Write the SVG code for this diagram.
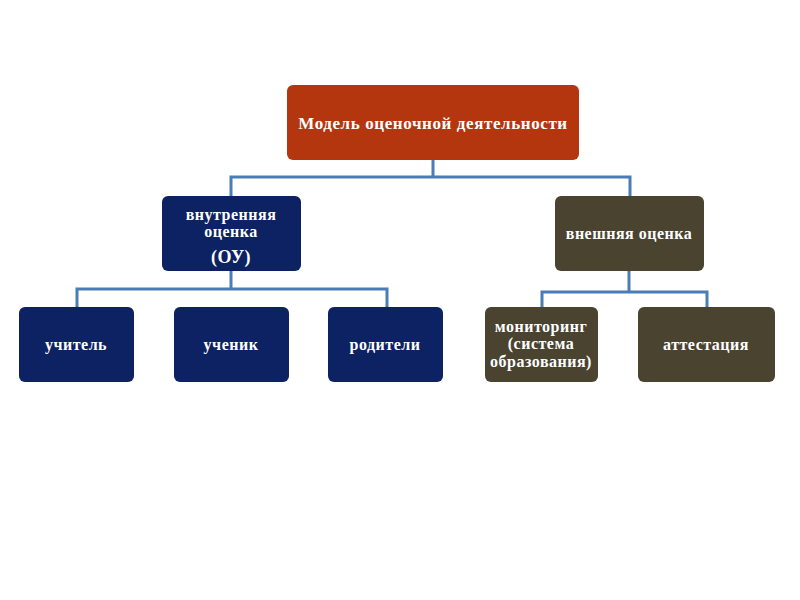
<svg xmlns="http://www.w3.org/2000/svg" width="800" height="600" viewBox="0 0 800 600">
<defs>
<style>
.red{fill:#b3360f}
.blue{fill:#0c2262}
.olive{fill:#4a4330}
.t{fill:#ffffff;font-family:"Liberation Serif","DejaVu Serif",serif;font-weight:bold;font-size:16px;letter-spacing:0.5px;text-anchor:middle}
.c{fill:none;stroke:#4a7cb5;stroke-width:3}
</style>
</defs>
<rect width="800" height="600" fill="#ffffff"/>
<g id="connectors">
<path class="c" d="M433 160 V177 M231 196 V177 H630 V196"/>
<path class="c" d="M231 271 V289 M77 307 V289 H387 V307"/>
<path class="c" d="M629 271 V292 M542 307 V292 H707 V307"/>
</g>
<g id="root">
<rect class="red" x="287" y="85" width="292" height="75" rx="6"/>
<text class="t" x="433" y="129" style="font-size:17px;letter-spacing:0.6px">Модель оценочной деятельности</text>
</g>
<g id="internal">
<rect class="blue" x="162" y="196" width="139" height="75" rx="6"/>
<text class="t" x="231" y="220">внутренняя</text>
<text class="t" x="231" y="237">оценка</text>
<text class="t" x="231" y="263" style="font-size:18px">(ОУ)</text>
</g>
<g id="external">
<rect class="olive" x="555" y="196" width="149" height="75" rx="6"/>
<text class="t" x="629" y="239">внешняя оценка</text>
</g>
<g id="teacher">
<rect class="blue" x="19" y="307" width="115" height="75" rx="6"/>
<text class="t" x="76" y="350">учитель</text>
</g>
<g id="student">
<rect class="blue" x="174" y="307" width="115" height="75" rx="6"/>
<text class="t" x="231" y="350">ученик</text>
</g>
<g id="parents">
<rect class="blue" x="328" y="307" width="115" height="75" rx="6"/>
<text class="t" x="385" y="350">родители</text>
</g>
<g id="monitoring">
<rect class="olive" x="485" y="307" width="113" height="75" rx="6"/>
<text class="t" x="541" y="332">мониторинг</text>
<text class="t" x="541" y="349">(система</text>
<text class="t" x="541" y="367">образования)</text>
</g>
<g id="attestation">
<rect class="olive" x="638" y="307" width="137" height="75" rx="6"/>
<text class="t" x="706" y="350">аттестация</text>
</g>
</svg>
